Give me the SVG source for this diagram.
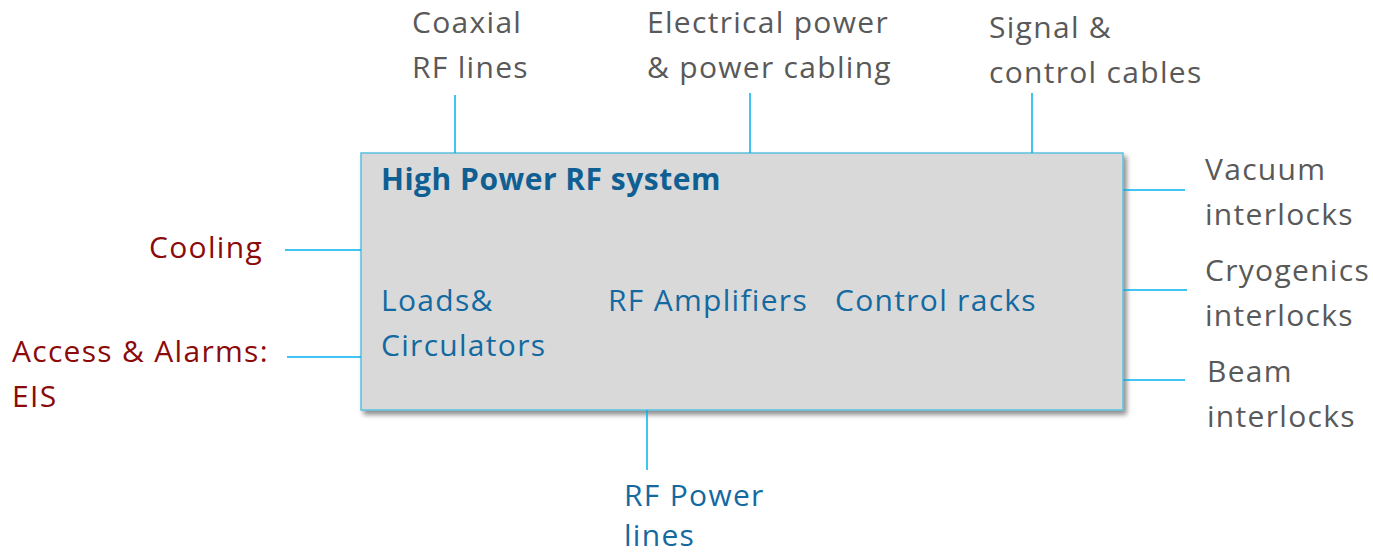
<svg xmlns="http://www.w3.org/2000/svg" width="1373" height="554" viewBox="0 0 1373 554">
<defs>
<style>
.t{font-family:"Open Sans","Noto Sans",sans-serif;font-size:30px;letter-spacing:1.3px}
.g{fill:#595959}
.r{fill:#8b0a0a}
.b{fill:#1369a0}
.hb{font-weight:bold;fill:#0f5f93;letter-spacing:0.5px}
.c line{stroke:#00b0f0;stroke-width:1.5}
</style>
<filter id="sh" x="-5%" y="-5%" width="110%" height="115%">
<feDropShadow dx="3" dy="4" stdDeviation="2.5" flood-color="#000" flood-opacity="0.45"/>
</filter>
</defs>
<rect width="1373" height="554" fill="#fff"/>
<g id="hprf">
<rect x="361" y="153" width="762" height="257" fill="#d9d9d9" stroke="#5bc0de" stroke-width="1.5" filter="url(#sh)"/>
<text class="t hb" x="381" y="190">High Power RF system</text>
<text class="t b" x="381" y="311">Loads&amp;</text>
<text class="t b" x="381" y="356">Circulators</text>
<text class="t b" x="608" y="311">RF Amplifiers</text>
<text class="t b" x="835" y="311">Control racks</text>
</g>
<g class="c" id="connectors">
<line x1="455" y1="95" x2="455" y2="153"/>
<line x1="750" y1="93" x2="750" y2="153"/>
<line x1="1032" y1="93" x2="1032" y2="153"/>
<line x1="1123" y1="190" x2="1185" y2="190"/>
<line x1="1123" y1="290" x2="1187" y2="290"/>
<line x1="1123" y1="380" x2="1185" y2="380"/>
<line x1="285" y1="250" x2="361" y2="250"/>
<line x1="287" y1="357" x2="361" y2="357"/>
<line x1="647" y1="410" x2="647" y2="470"/>
</g>
<g id="coax"><text class="t g" x="412" y="33">Coaxial</text><text class="t g" x="412" y="78">RF lines</text></g>
<g id="elec"><text class="t g" x="647" y="33">Electrical power</text><text class="t g" x="647" y="78">&amp; power cabling</text></g>
<g id="signal"><text class="t g" x="989" y="38">Signal &amp;</text><text class="t g" x="989" y="83">control cables</text></g>
<g id="vacuum"><text class="t g" x="1205" y="180">Vacuum</text><text class="t g" x="1205" y="225">interlocks</text></g>
<g id="cryo"><text class="t g" x="1205" y="281">Cryogenics</text><text class="t g" x="1205" y="326">interlocks</text></g>
<g id="beam"><text class="t g" x="1207" y="382">Beam</text><text class="t g" x="1207" y="427">interlocks</text></g>
<g id="cooling"><text class="t r" x="263" y="258" text-anchor="end">Cooling</text></g>
<g id="access"><text class="t r" x="12" y="362">Access &amp; Alarms:</text><text class="t r" x="12" y="407">EIS</text></g>
<g id="rfpower"><text class="t b" x="624" y="506">RF Power</text><text class="t b" x="624" y="546">lines</text></g>
</svg>
